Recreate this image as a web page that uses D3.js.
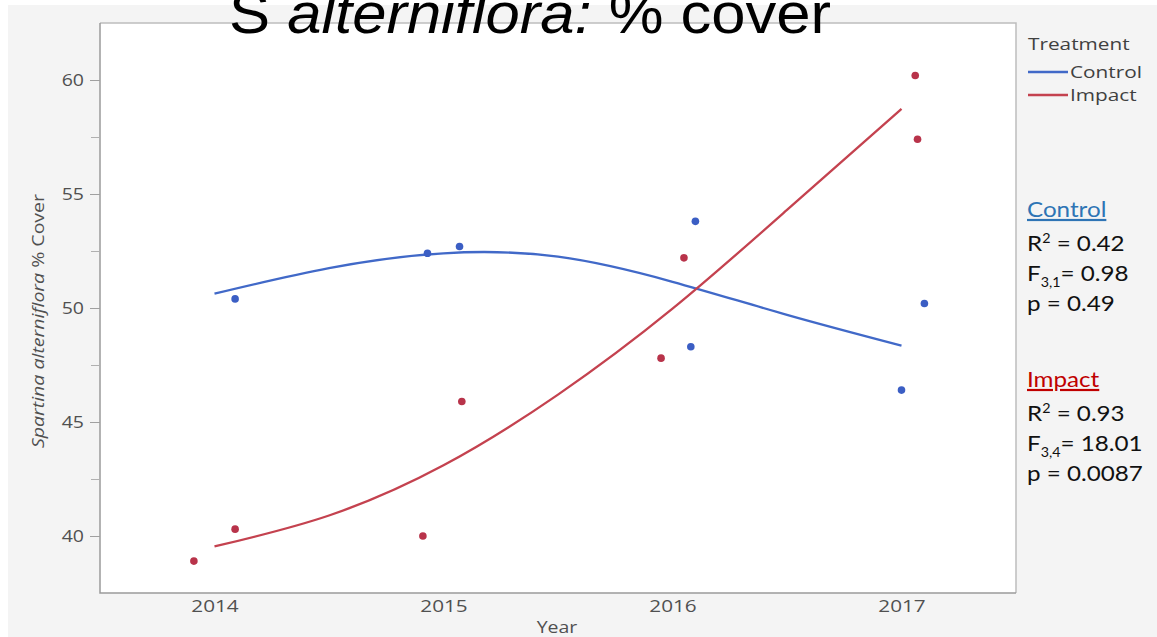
<!DOCTYPE html>
<html>
<head>
<meta charset="utf-8">
<script src="https://cdn.jsdelivr.net/npm/d3@7"></script>
<style>
  body { margin: 0; background: #ffffff; }
  svg { display: block; }
</style>
</head>
<body>
<svg id="chart" width="1157" height="637"></svg>
<script>
// ---- data ----
const years = [2014, 2015, 2016, 2017];
const yTicks = [40, 45, 50, 55, 60];
const yMinorTicks = [42.5, 47.5, 52.5, 57.5];

// observed plots (year positions carry a small jitter)
const controlYear = [2014.09, 2014.93, 2015.07, 2016.10, 2016.08, 2017.10, 2017.00];
const controlCover = [50.4, 52.4, 52.7, 53.8, 48.3, 50.2, 46.4];
const impactYear = [2013.91, 2014.09, 2014.91, 2015.08, 2015.95, 2016.05, 2017.06, 2017.07];
const impactCover = [38.9, 40.3, 40.0, 45.9, 47.8, 52.2, 60.2, 57.4];

// fitted cubic trends, sampled every half year
const fitYear = [2014, 2014.5, 2015, 2015.5, 2016, 2016.5, 2017];
const controlFit = [50.63, 51.75, 52.4, 52.25, 51.15, 49.7, 48.35];
const impactFit = [39.54, 40.9, 43.1, 46.2, 49.97, 54.3, 58.73];

const treatments = ["Control", "Impact"];
const treatmentColor = ["#4169c8", "#c4424f"];
const dotColor = ["#3b5ec4", "#b8334a"];

// regression summaries
const statR2 = ["0.42", "0.93"];
const statDf = ["3,1", "3,4"];
const statF = ["0.98", "18.01"];
const statP = ["0.49", "0.0087"];

// ---- layout ----
const SX = 1.22; // horizontal glyph stretch used for the labels
const uiFont = "'Open Sans', 'Noto Sans', sans-serif";
const svg = d3.select("#chart");

// stretch text horizontally around its anchor point
function stretch(sel, sx, pre = "") {
  sel.each(function () {
    const t = d3.select(this);
    const tx = +t.attr("x") || 0, ty = +t.attr("y") || 0;
    t.attr("x", null).attr("y", null)
     .attr("transform", `translate(${tx},${ty}) ${pre} scale(${sx},1)`);
  });
}

svg.append("rect").attr("x", 8).attr("y", 5).attr("width", 1149).attr("height", 632).attr("fill", "#f4f4f4");

const P = { l: 100, t: 23, r: 1016, b: 593 };
const x = d3.scaleLinear().domain([2013.5, 2017.5]).range([P.l, P.r]);
const y = d3.scaleLinear().domain([37.5, 62.5]).range([P.b, P.t]);

svg.append("rect").attr("x", P.l).attr("y", P.t).attr("width", P.r - P.l).attr("height", P.b - P.t)
  .attr("fill", "#ffffff");
// frame: top/right lighter, left/bottom darker
svg.append("path").attr("d", `M${P.l},${P.t}H${P.r}V${P.b}`).attr("fill", "none")
  .attr("stroke", "#bdbdbd").attr("stroke-width", 1.5);
svg.append("path").attr("d", `M${P.l},${P.t}V${P.b}H${P.r}`).attr("fill", "none")
  .attr("stroke", "#9a9a9a").attr("stroke-width", 1.5);

// y axis
const yAxis = svg.append("g").attr("transform", `translate(${P.l},0)`)
  .call(d3.axisLeft(y).tickValues(yTicks).tickSize(10).tickPadding(6).tickFormat(d3.format("d")));
yAxis.select(".domain").remove();
yAxis.selectAll(".tick line").attr("stroke", "#a0a0a0");
yAxis.selectAll("text").attr("font-family", uiFont).attr("font-size", 16).attr("fill", "#505050");
stretch(yAxis.selectAll("text"), SX);

const yMinor = svg.append("g").attr("transform", `translate(${P.l},0)`)
  .call(d3.axisLeft(y).tickValues(yMinorTicks).tickSize(9).tickFormat(""));
yMinor.select(".domain").remove();
yMinor.selectAll(".tick line").attr("stroke", "#b0b0b0");

// x axis
const xAxis = svg.append("g").attr("transform", `translate(0,${P.b})`)
  .call(d3.axisBottom(x).tickValues(years).tickSize(0).tickPadding(7).tickFormat(d3.format("d")));
xAxis.select(".domain").remove();
xAxis.selectAll("text").attr("font-family", uiFont).attr("font-size", 17).attr("fill", "#505050");
stretch(xAxis.selectAll("text"), SX);

// axis titles
stretch(svg.append("text").attr("x", 557).attr("y", 633).attr("text-anchor", "middle")
  .attr("font-family", uiFont).attr("font-size", 16).attr("fill", "#505050").text("Year"), SX);

const yTitle = svg.append("text").attr("x", 44).attr("y", 321).attr("text-anchor", "middle")
  .attr("font-family", uiFont).attr("font-size", 16).attr("fill", "#505050");
yTitle.append("tspan").attr("font-style", "italic").text("Spartina alterniflora");
yTitle.append("tspan").text(" % Cover");
stretch(yTitle, SX, "rotate(-90)");

// fitted curves
const line = d3.line().x(d => x(d[0])).y(d => y(d[1])).curve(d3.curveNatural);
[controlFit, impactFit].forEach((fit, i) => {
  svg.append("path").datum(fitYear.map((yr, j) => [yr, fit[j]]))
    .attr("d", line).attr("fill", "none").attr("stroke", treatmentColor[i]).attr("stroke-width", 2.3);
});

// observed points
[[controlYear, controlCover], [impactYear, impactCover]].forEach(([xs, vs], i) => {
  svg.append("g").selectAll("circle").data(xs.map((yr, j) => [yr, vs[j]])).join("circle")
    .attr("cx", d => x(d[0])).attr("cy", d => y(d[1])).attr("r", 3.8).attr("fill", dotColor[i]);
});

// legend
const LX = 1.3;
stretch(svg.append("text").attr("x", 1028).attr("y", 50).attr("font-family", uiFont)
  .attr("font-size", 16).attr("fill", "#404040").text("Treatment"), LX);
treatments.forEach((name, i) => {
  const ly = 72 + i * 23;
  svg.append("line").attr("x1", 1028).attr("x2", 1068).attr("y1", ly).attr("y2", ly)
    .attr("stroke", treatmentColor[i]).attr("stroke-width", 2.3);
  stretch(svg.append("text").attr("x", 1070).attr("y", ly + 6).attr("font-family", uiFont)
    .attr("font-size", 16).attr("fill", "#404040").text(name), LX);
});

// regression summaries
const statFont = "Lato, 'Open Sans', sans-serif";
const SS = 1.1;
const headColor = ["#2e74b5", "#c00000"];
treatments.forEach((name, i) => {
  const by = 217 + i * 170;
  const g = svg.append("g");
  stretch(g.append("text").attr("x", 1027).attr("y", by).attr("font-family", statFont)
    .attr("font-size", 22).attr("fill", headColor[i]).attr("text-decoration", "underline").text(name), SS);

  const r = g.append("text").attr("x", 1027).attr("y", by + 34).attr("font-family", statFont)
    .attr("font-size", 22).attr("fill", "#111");
  r.append("tspan").text("R");
  r.append("tspan").attr("font-size", 13).attr("dy", -8).text("2");
  r.append("tspan").attr("dy", 8).text(" = " + statR2[i]);
  stretch(r, SS);

  const f = g.append("text").attr("x", 1027).attr("y", by + 64).attr("font-family", statFont)
    .attr("font-size", 22).attr("fill", "#111");
  f.append("tspan").text("F");
  f.append("tspan").attr("font-size", 13).attr("dy", 6).text(statDf[i]);
  f.append("tspan").attr("dy", -6).text("= " + statF[i]);
  stretch(f, SS);

  stretch(g.append("text").attr("x", 1027).attr("y", by + 94).attr("font-family", statFont)
    .attr("font-size", 22).attr("fill", "#111").text("p = " + statP[i]), SS);
});

// title
const title = svg.append("text").attr("x", 229).attr("y", 33)
  .attr("font-family", "'Liberation Sans', Arial, sans-serif").attr("font-size", 57).attr("fill", "#000");
title.append("tspan").text("S ");
title.append("tspan").attr("font-style", "italic").text("alterniflora:");
title.append("tspan").text(" % cover");
stretch(title, 1.08);
</script>
</body>
</html>
